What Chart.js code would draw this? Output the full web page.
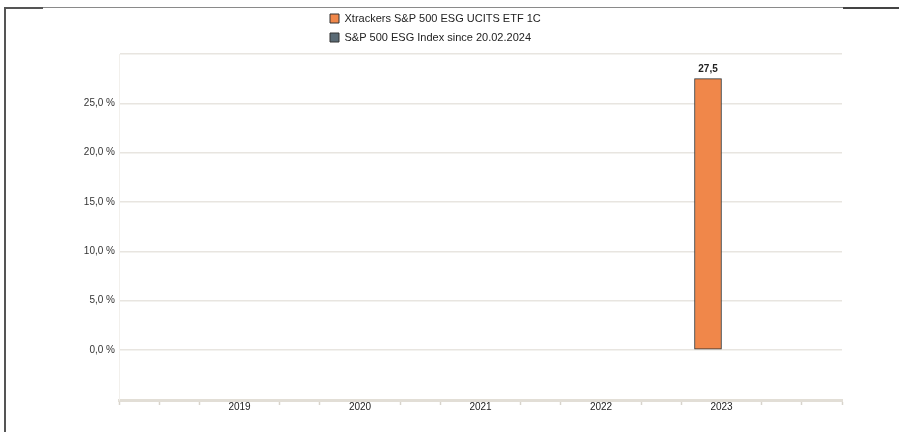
<!DOCTYPE html>
<html>
<head>
<meta charset="utf-8">
<script src="https://cdn.jsdelivr.net/npm/chart.js@4.4.1/dist/chart.umd.min.js"></script>
<style>
  html, body { margin: 0; padding: 0; background: #fff; }
  #wrap { position: relative; width: 899px; height: 432px; overflow: hidden; }
  .ln { position: absolute; }
  canvas { position: absolute; left: 0; top: 0; }
</style>
</head>
<body>
<div id="wrap">
  <div class="ln" style="left:4px;top:7px;width:2px;height:425px;background:#555;"></div>
  <div class="ln" style="left:4px;top:7px;width:39px;height:2px;background:#555;"></div>
  <div class="ln" style="left:43px;top:7px;width:800px;height:1px;background:#8a8a8a;"></div>
  <div class="ln" style="left:843px;top:7px;width:56px;height:2px;background:#444;"></div>
  <canvas id="c" width="899" height="432"></canvas>
</div>
<script>
// ---- data ----
const years = [2019, 2020, 2021, 2022, 2023];
const etfValues = [null, null, null, null, 27.5];
const indexValues = [null, null, null, null, null];
const seriesNames = ['Xtrackers S&P 500 ESG UCITS ETF 1C', 'S&P 500 ESG Index since 20.02.2024'];
const yTickValues = [0, 5, 10, 15, 20, 25, 30];

const fmt = v => v.toFixed(1).replace('.', ',');

const legendPlacer = {
  id: 'legendPlacer',
  afterLayout(chart) {
    const lg = chart.legend;
    if (!lg) return;
    lg.left = 322; lg.right = 600; lg.top = 5; lg.bottom = 52;
  }
};

const valueLabels = {
  id: 'valueLabels',
  afterDatasetsDraw(chart) {
    const ctx = chart.ctx;
    const meta = chart.getDatasetMeta(0);
    ctx.save();
    ctx.font = 'bold 10px "Liberation Sans", Arial, sans-serif';
    ctx.fillStyle = '#222';
    ctx.textAlign = 'center';
    ctx.textBaseline = 'bottom';
    meta.data.forEach((bar, i) => {
      const v = etfValues[i];
      if (v === null || v === undefined) return;
      ctx.fillText(fmt(v), bar.x, bar.y - 4);
    });
    ctx.restore();
  }
};

new Chart(document.getElementById('c'), {
  type: 'bar',
  data: {
    datasets: [
      {
        label: seriesNames[0],
        data: years.map((y, i) => ({ x: y, y: etfValues[i] })),
        backgroundColor: '#F0874A',
        borderColor: '#333',
        borderWidth: 1,
        borderSkipped: false,
        barThickness: 27
      },
      {
        label: seriesNames[1],
        data: years.map((y, i) => ({ x: y, y: indexValues[i] })),
        backgroundColor: '#5A6A75',
        borderColor: '#333',
        borderWidth: 1,
        borderSkipped: false,
        barThickness: 27
      }
    ]
  },
  options: {
    responsive: false,
    animation: false,
    devicePixelRatio: 1,
    layout: { padding: { left: 0, right: 57, top: 25, bottom: 0 } },
    plugins: {
      legend: {
        position: 'top',
        align: 'start',
        labels: {
          boxWidth: 9,
          boxHeight: 9,
          padding: 8,
          color: '#222',
          font: { family: '"Liberation Sans", Arial, sans-serif', size: 11 }
        }
      },
      tooltip: { enabled: false }
    },
    scales: {
      x: {
        type: 'linear',
        offset: false,
        min: years[0] - 1,
        max: years[years.length - 1] + 1,
        afterBuildTicks(scale) {
          const t = [];
          for (let k = 0; k <= 18; k++) t.push({ value: scale.min + k / 3 });
          scale.ticks = t;
        },
        afterFit(scale) { scale.height = 32; },
        ticks: {
          autoSkip: false,
          maxRotation: 0,
          padding: -4,
          color: '#222',
          font: { family: '"Liberation Sans", Arial, sans-serif', size: 10 },
          callback(v) {
            const r = Math.round(v);
            return (Math.abs(v - r) < 1e-6 && years.includes(r)) ? String(r) : '';
          }
        },
        grid: {
          offset: false,
          drawOnChartArea: false,
          drawTicks: true,
          tickLength: 5,
          tickWidth: 1.5,
          tickColor(ctx) {
            const v = ctx.tick ? ctx.tick.value : 0;
            const r = Math.round(v);
            return (Math.abs(v - r) < 1e-6 && years.includes(r)) ? 'rgba(0,0,0,0)' : '#d8d4cc';
          }
        },
        border: { display: true, color: '#e2ded6', width: 3 }
      },
      y: {
        min: -5.07,
        max: 30,
        afterBuildTicks(scale) {
          scale.ticks = yTickValues.map(v => ({ value: v }));
        },
        afterFit(scale) { scale.width = 119; },
        ticks: {
          padding: 4,
          color: '#333',
          font: { family: '"Liberation Sans", Arial, sans-serif', size: 10 },
          callback(v) { return v === 30 ? '' : fmt(v) + ' %'; }
        },
        grid: {
          drawTicks: false,
          color: '#e8e5e0',
          lineWidth: 1.5
        },
        border: { display: true, color: '#f2f0ec', width: 1 }
      }
    }
  },
  plugins: [legendPlacer, valueLabels]
});
</script>
</body>
</html>
